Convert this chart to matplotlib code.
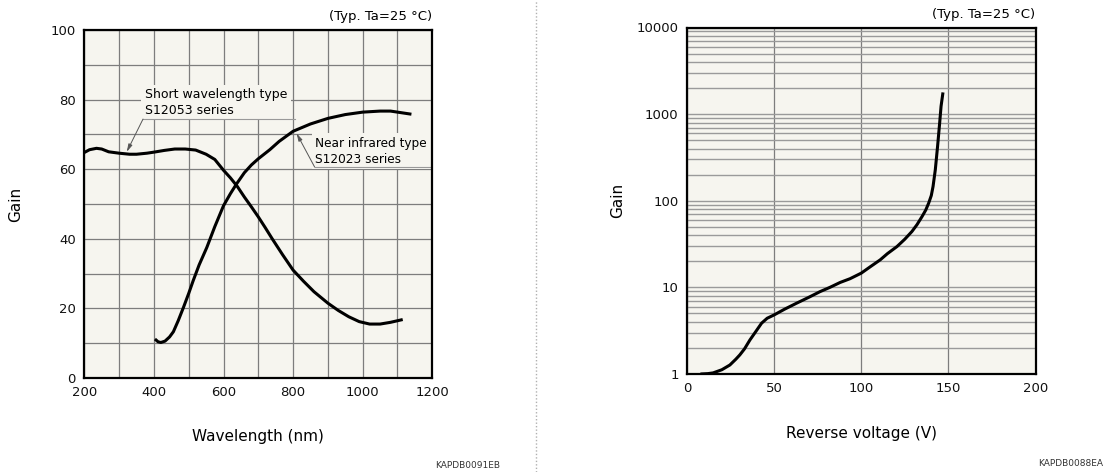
import matplotlib
matplotlib.use("Agg")
import matplotlib.pyplot as plt
from matplotlib.lines import Line2D
from matplotlib.ticker import NullFormatter, FixedLocator

# ---- Gain vs wavelength (S12053 / S12023 series) ----
short_wl = [200, 215, 235, 250, 270, 300, 330, 350, 380, 400, 430, 460, 490,
            520, 550, 575, 600, 620, 640, 660, 680, 700, 720, 740, 770, 800,
            830, 860, 900, 930, 960, 990, 1020, 1050, 1080, 1115]
short_gain = [64.8, 65.6, 66.0, 65.8, 65.0, 64.6, 64.3, 64.3, 64.6, 64.9, 65.4,
              65.8, 65.8, 65.5, 64.3, 62.8, 59.7, 57.5, 55.0, 52.0, 49.2, 46.3,
              43.2, 40.0, 35.4, 31.0, 27.8, 24.8, 21.5, 19.4, 17.6, 16.2, 15.5,
              15.5, 16.0, 16.8]

nir_wl = [403, 412, 420, 432, 445, 456, 470, 485, 500, 513, 530, 552, 575, 600,
          620, 637, 660, 680, 700, 733, 760, 800, 850, 900, 950, 1000, 1050,
          1080, 1100, 1120, 1140]
nir_gain = [11.2, 10.4, 10.2, 10.6, 11.8, 13.3, 16.5, 20.3, 24.3, 28.0, 32.5,
            37.5, 43.5, 49.5, 53.0, 55.7, 59.0, 61.2, 63.0, 65.6, 68.0, 70.9,
            73.0, 74.6, 75.7, 76.4, 76.7, 76.7, 76.4, 76.1, 75.8]

wl_ticks = [200, 400, 600, 800, 1000, 1200]
gain_ticks = [0, 20, 40, 60, 80, 100]

# ---- Gain vs reverse voltage ----
volt = [7.7, 12, 15, 20, 24.6, 28, 30.3, 33, 36.1, 40, 42.8, 46, 50, 56, 62.9,
        70, 76.4, 82, 87.9, 93.6, 100, 105, 110.9, 115, 120.5, 125, 129.1, 132,
        134.9, 137, 138.7, 140.2, 141.2, 142.5, 143.8, 145, 145.8, 146.9]
volt_gain = [1.0, 1.01, 1.03, 1.12, 1.27, 1.48, 1.66, 1.95, 2.47, 3.2, 3.86,
             4.4, 4.81, 5.6, 6.57, 7.7, 8.94, 10.0, 11.4, 12.6, 14.6, 17.2,
             20.8, 24.5, 29.6, 36, 44.2, 53, 65.8, 78, 94, 115, 146, 228, 424,
             791, 1231, 1781]

v_ticks = [0, 50, 100, 150, 200]
log_ticks = [1, 10, 100, 1000, 10000]
log_labels = ["1", "10", "100", "1000", "10000"]

FACE = "#f6f5ef"
plt.rcParams["font.family"] = ["DejaVu Sans"]

fig = plt.figure(figsize=(11.07, 4.72), dpi=100)
W, H = 1107, 472


def px_axes(l, t, r, b):
    return fig.add_axes([l / W, 1 - b / H, (r - l) / W, (b - t) / H])


def style(ax):
    ax.set_facecolor(FACE)
    for s in ax.spines.values():
        s.set_linewidth(1.6)
        s.set_color("black")
        s.set_zorder(6)
    ax.tick_params(which="both", length=0, labelsize=9.5, pad=6, colors="#111")


# Left panel
ax1 = px_axes(84.3, 30, 432.3, 378)
style(ax1)
ax1.set_xlim(200, 1200)
ax1.set_ylim(0, 100)
ax1.set_xticks(wl_ticks)
ax1.set_yticks(gain_ticks)
ax1.xaxis.set_minor_locator(FixedLocator(range(300, 1200, 200)))
ax1.yaxis.set_minor_locator(FixedLocator(range(10, 100, 20)))
ax1.grid(which="both", color="#7d7d7d", lw=0.9)
ax1.set_axisbelow(True)
ax1.plot(short_wl, short_gain, color="black", lw=2.2, zorder=3,
         solid_capstyle="butt")
ax1.plot(nir_wl, nir_gain, color="black", lw=2.2, zorder=3,
         solid_capstyle="butt")
ax1.set_xlabel("Wavelength (nm)", fontsize=11)
ax1.xaxis.set_label_coords(0.5, -0.147)
ax1.set_ylabel("Gain", fontsize=11)
ax1.yaxis.set_label_coords(-0.176, 0.5)
ax1.text(1.0, 1.02, "(Typ. Ta=25 \u00b0C)", transform=ax1.transAxes,
         ha="right", va="bottom", fontsize=9.5)

# Series callouts
box = dict(facecolor=FACE, edgecolor="none", pad=2.5)
ax1.text(374, 79.2, "Short wavelength type\nS12053 series", fontsize=9,
         ha="left", va="center", bbox=box, zorder=2, linespacing=1.25)
ax1.plot([368.7, 805], [74.4, 74.4], color="#999999", lw=0.8, zorder=4)
ax1.annotate("", xy=(322, 65.0), xytext=(368.7, 74.4), zorder=5,
             arrowprops=dict(arrowstyle="-|>,head_length=0.45,head_width=0.12",
                             color="#555555", lw=0.7, shrinkA=0, shrinkB=0))

nir_label = ax1.text(864, 65.2, "Near infrared type\nS12023 series",
                     fontsize=8.7, ha="left", va="center", bbox=box, zorder=2,
                     linespacing=1.3)
nir_label.set_clip_on(True)
ax1.plot([862, 1200], [60.6, 60.6], color="#999999", lw=0.8, zorder=4)
ax1.annotate("", xy=(810, 70.3), xytext=(862, 60.6), zorder=5,
             arrowprops=dict(arrowstyle="-|>,head_length=0.45,head_width=0.12",
                             color="#555555", lw=0.7, shrinkA=0, shrinkB=0))

# Right panel
ax2 = px_axes(687, 27.5, 1035.5, 374)
style(ax2)
ax2.set_yscale("log")
ax2.set_xlim(0, 200)
ax2.set_ylim(1, 10000)
ax2.set_xticks(v_ticks)
ax2.set_yticks(log_ticks)
ax2.set_yticklabels(log_labels)
ax2.yaxis.set_minor_locator(
    FixedLocator([m * 10 ** d for d in range(4) for m in range(2, 10)]))
ax2.yaxis.set_minor_formatter(NullFormatter())
ax2.grid(which="major", axis="x", color="#7d7d7d", lw=0.9)
ax2.grid(which="both", axis="y", color="#9a9a9a", lw=1.0)
ax2.set_axisbelow(True)
ax2.plot(volt, volt_gain, color="black", lw=2.2, zorder=3,
         solid_capstyle="butt")
ax2.set_xlabel("Reverse voltage (V)", fontsize=11)
ax2.xaxis.set_label_coords(0.5, -0.15)
ax2.set_ylabel("Gain", fontsize=11)
ax2.yaxis.set_label_coords(-0.178, 0.5)
ax2.text(1.0, 1.02, "(Typ. Ta=25 \u00b0C)", transform=ax2.transAxes,
         ha="right", va="bottom", fontsize=9.5)

# Drawing codes and panel separator
fig.text(500 / W, 1 - 466 / H, "KAPDB0091EB", fontsize=6.5, color="#333333",
         ha="right", va="center")
fig.text(1103 / W, 1 - 463 / H, "KAPDB0088EA", fontsize=6.5, color="#333333",
         ha="right", va="center")
fig.add_artist(Line2D([536 / W, 536 / W], [0, 1], transform=fig.transFigure,
                      color="#b0b0b0", lw=1.0, linestyle=(0, (1, 1.5))))

fig.savefig("out.png", dpi=100, facecolor="white")
